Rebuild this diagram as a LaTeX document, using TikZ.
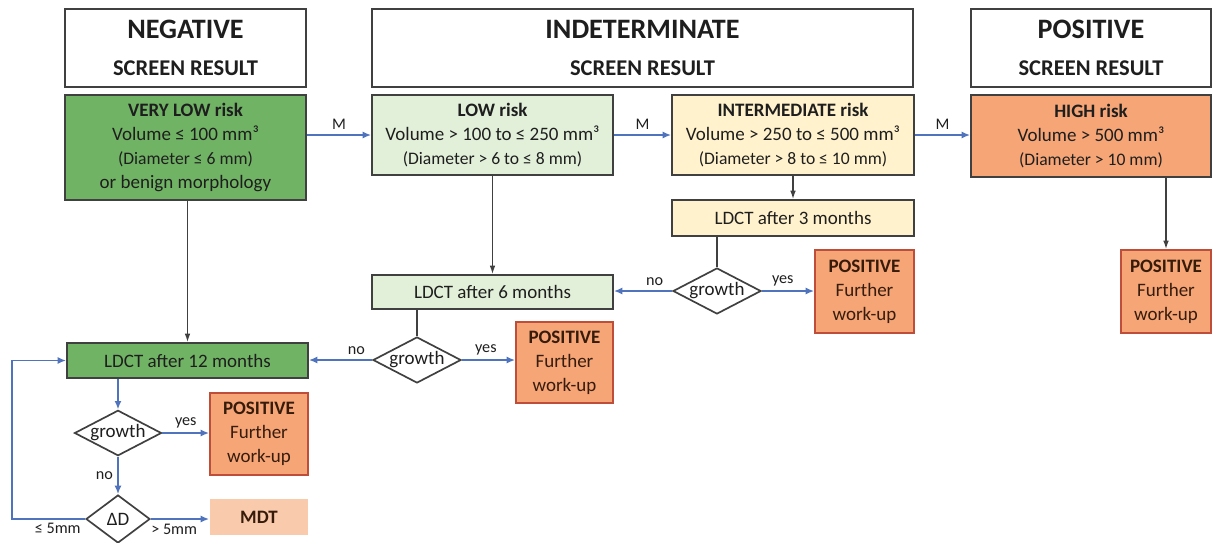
\documentclass[tikz,border=0pt]{standalone}
\usepackage{fontspec}
\setmainfont{Carlito}
\usetikzlibrary{shapes.geometric,arrows.meta}

\definecolor{boxline}{RGB}{64,64,64}
\definecolor{txt}{RGB}{30,30,30}
\definecolor{vlgreen}{RGB}{113,179,101}
\definecolor{lgreen}{RGB}{226,240,217}
\definecolor{lyellow}{RGB}{255,242,204}
\definecolor{orng}{RGB}{245,165,118}
\definecolor{posline}{RGB}{190,78,58}
\definecolor{postxt}{RGB}{55,28,12}
\definecolor{peach}{RGB}{249,203,172}
\definecolor{flowblue}{RGB}{80,115,190}

\newcommand\bigline[1]{{\fontsize{20}{23}\selectfont\bfseries #1}}
\newcommand\subline[1]{{\fontsize{16}{19}\selectfont\bfseries #1}}
\newcommand\diamline[1]{{\fontsize{12.5}{15}\selectfont #1}}

\tikzset{
  box/.style={draw=boxline, line width=1.2pt, align=center, inner sep=2pt,
    font=\fontsize{13.5}{17}\selectfont, text=txt},
  head/.style={box, fill=white},
  posbox/.style={box, draw=posline, fill=orng, text=postxt},
  decide/.style={diamond, aspect=1.9, draw=boxline, line width=1.2pt, inner sep=0pt,
    fill=white, text=txt, font=\fontsize{13.5}{16}\selectfont},
  flow/.style={draw=flowblue, line width=1.2pt, -{Latex[length=6pt,width=5pt]}},
  down/.style={draw=boxline, line width=1pt, -{Latex[length=6pt,width=4pt]}},
  lab/.style={font=\fontsize{11.5}{14}\selectfont, text=txt, inner sep=3pt}
}

\begin{document}
\begin{tikzpicture}[x=0.025cm,y=-0.025cm]
  \useasboundingbox (0,0) rectangle (1216,542);

  \node[head, minimum width=6.025cm, minimum height=1.95cm] (neghead) at (185.5,48)
    {\bigline{NEGATIVE}\\[9pt]\subline{SCREEN RESULT}};
  \node[head, minimum width=13.525cm, minimum height=1.95cm] (indhead) at (642.5,48)
    {\bigline{INDETERMINATE}\\[9pt]\subline{SCREEN RESULT}};
  \node[head, minimum width=6cm, minimum height=1.95cm] (poshead) at (1091,48)
    {\bigline{POSITIVE}\\[9pt]\subline{SCREEN RESULT}};

  \node[box, fill=vlgreen, minimum width=6.025cm, minimum height=2.625cm] (verylow) at (185.5,147.5)
    {\textbf{VERY LOW risk}\\Volume ≤ 100 mm³\\\diamline{(Diameter ≤ 6 mm)}\\or benign morphology};
  \node[box, fill=lgreen, minimum width=6.025cm, minimum height=2cm] (low) at (492.5,135)
    {\textbf{LOW risk}\\Volume > 100 to ≤ 250 mm³\\\diamline{(Diameter > 6 to ≤ 8 mm)}};
  \node[box, fill=lyellow, minimum width=6.05cm, minimum height=2cm] (inter) at (793,135)
    {\textbf{INTERMEDIATE risk}\\Volume > 250 to ≤ 500 mm³\\\diamline{(Diameter > 8 to ≤ 10 mm)}};
  \node[box, fill=orng, minimum width=6cm, minimum height=2.05cm] (high) at (1091,136)
    {\textbf{HIGH risk}\\Volume > 500 mm³\\\diamline{(Diameter > 10 mm)}};

  \node[box, fill=lyellow, minimum width=6.05cm, minimum height=0.9cm] (ldct3) at (793,218)
    {LDCT after 3 months};
  \node[decide, minimum width=2.2cm, minimum height=1.15cm] (grow3) at (717,291) {growth};
  \node[posbox, minimum width=2.475cm, minimum height=2.075cm] (pos3) at (864.5,291.5)
    {\textbf{POSITIVE}\\Further\\work-up};
  \node[posbox, minimum width=2.25cm, minimum height=2.075cm] (poshigh) at (1166,291.5)
    {\textbf{POSITIVE}\\Further\\work-up};

  \node[box, fill=lgreen, minimum width=6.025cm, minimum height=0.85cm] (ldct6) at (492.5,292)
    {LDCT after 6 months};
  \node[decide, minimum width=2.2cm, minimum height=1.15cm] (grow6) at (417,360) {growth};
  \node[posbox, minimum width=2.425cm, minimum height=2.025cm] (pos6) at (564.5,362.5)
    {\textbf{POSITIVE}\\Further\\work-up};

  \node[box, fill=vlgreen, minimum width=6.025cm, minimum height=0.875cm] (ldct12) at (187.5,360.5)
    {LDCT after 12 months};
  \node[decide, minimum width=2.175cm, minimum height=1.075cm] (grow12) at (118,433) {growth};
  \node[posbox, minimum width=2.45cm, minimum height=2.05cm] (pos12) at (259,434)
    {\textbf{POSITIVE}\\Further\\work-up};
  \node[decide, aspect=1.33, minimum width=1.6cm, minimum height=1.2cm] (dd) at (118,519) {ΔD};
  \node[box, draw=none, fill=peach, text=postxt, minimum width=2.45cm, minimum height=0.9cm] (mdt) at (259,517)
    {\textbf{MDT}};
  \coordinate (loop) at (12,519);

  \draw[flow] (verylow.east |- low.west) -- node[above, lab] {M} (low.west);
  \draw[flow] (low.east) -- node[above, lab] {M} (inter.west);
  \draw[flow] (inter.east) -- node[above, lab] {M} (high.west |- inter.east);

  \draw[down] (inter.south) -- (ldct3.north);
  \draw[down] (poshigh.north |- high.south) -- (poshigh.north);
  \draw[down] (low.south) -- (ldct6.north);
  \draw[down] (ldct12.north |- verylow.south) -- (ldct12.north);

  \draw[boxline, line width=1pt] (grow3.north |- ldct3.south) -- (grow3.north);
  \draw[boxline, line width=1pt] (grow6.north |- ldct6.south) -- (grow6.north);

  \draw[flow] (grow3.west) -- node[above, lab, pos=.3] {no} (ldct6.east |- grow3.west);
  \draw[flow] (grow3.east) -- node[above, lab, pos=.4] {yes} (pos3.west |- grow3.east);
  \draw[flow] (grow6.west) -- node[above, lab, pos=.25] {no} (ldct12.east |- grow6.west);
  \draw[flow] (grow6.east) -- node[above, lab, pos=.45] {yes} (pos6.west |- grow6.east);

  \draw[flow] (grow12.north |- ldct12.south) -- (grow12.north);
  \draw[flow] (grow12.east) -- node[above, lab] {yes} (pos12.west |- grow12.east);
  \draw[flow] (grow12.south) -- node[left, lab] {no} (dd.north);
  \draw[flow] (dd.east) -- node[below, lab, pos=.4] {> 5mm} (mdt.west |- dd.east);
  \draw[flow] (dd.west) -- (loop) |- (ldct12.west);
  \node[lab, below left] (le5) at (dd.west) {≤ 5mm};
\end{tikzpicture}
\end{document}
